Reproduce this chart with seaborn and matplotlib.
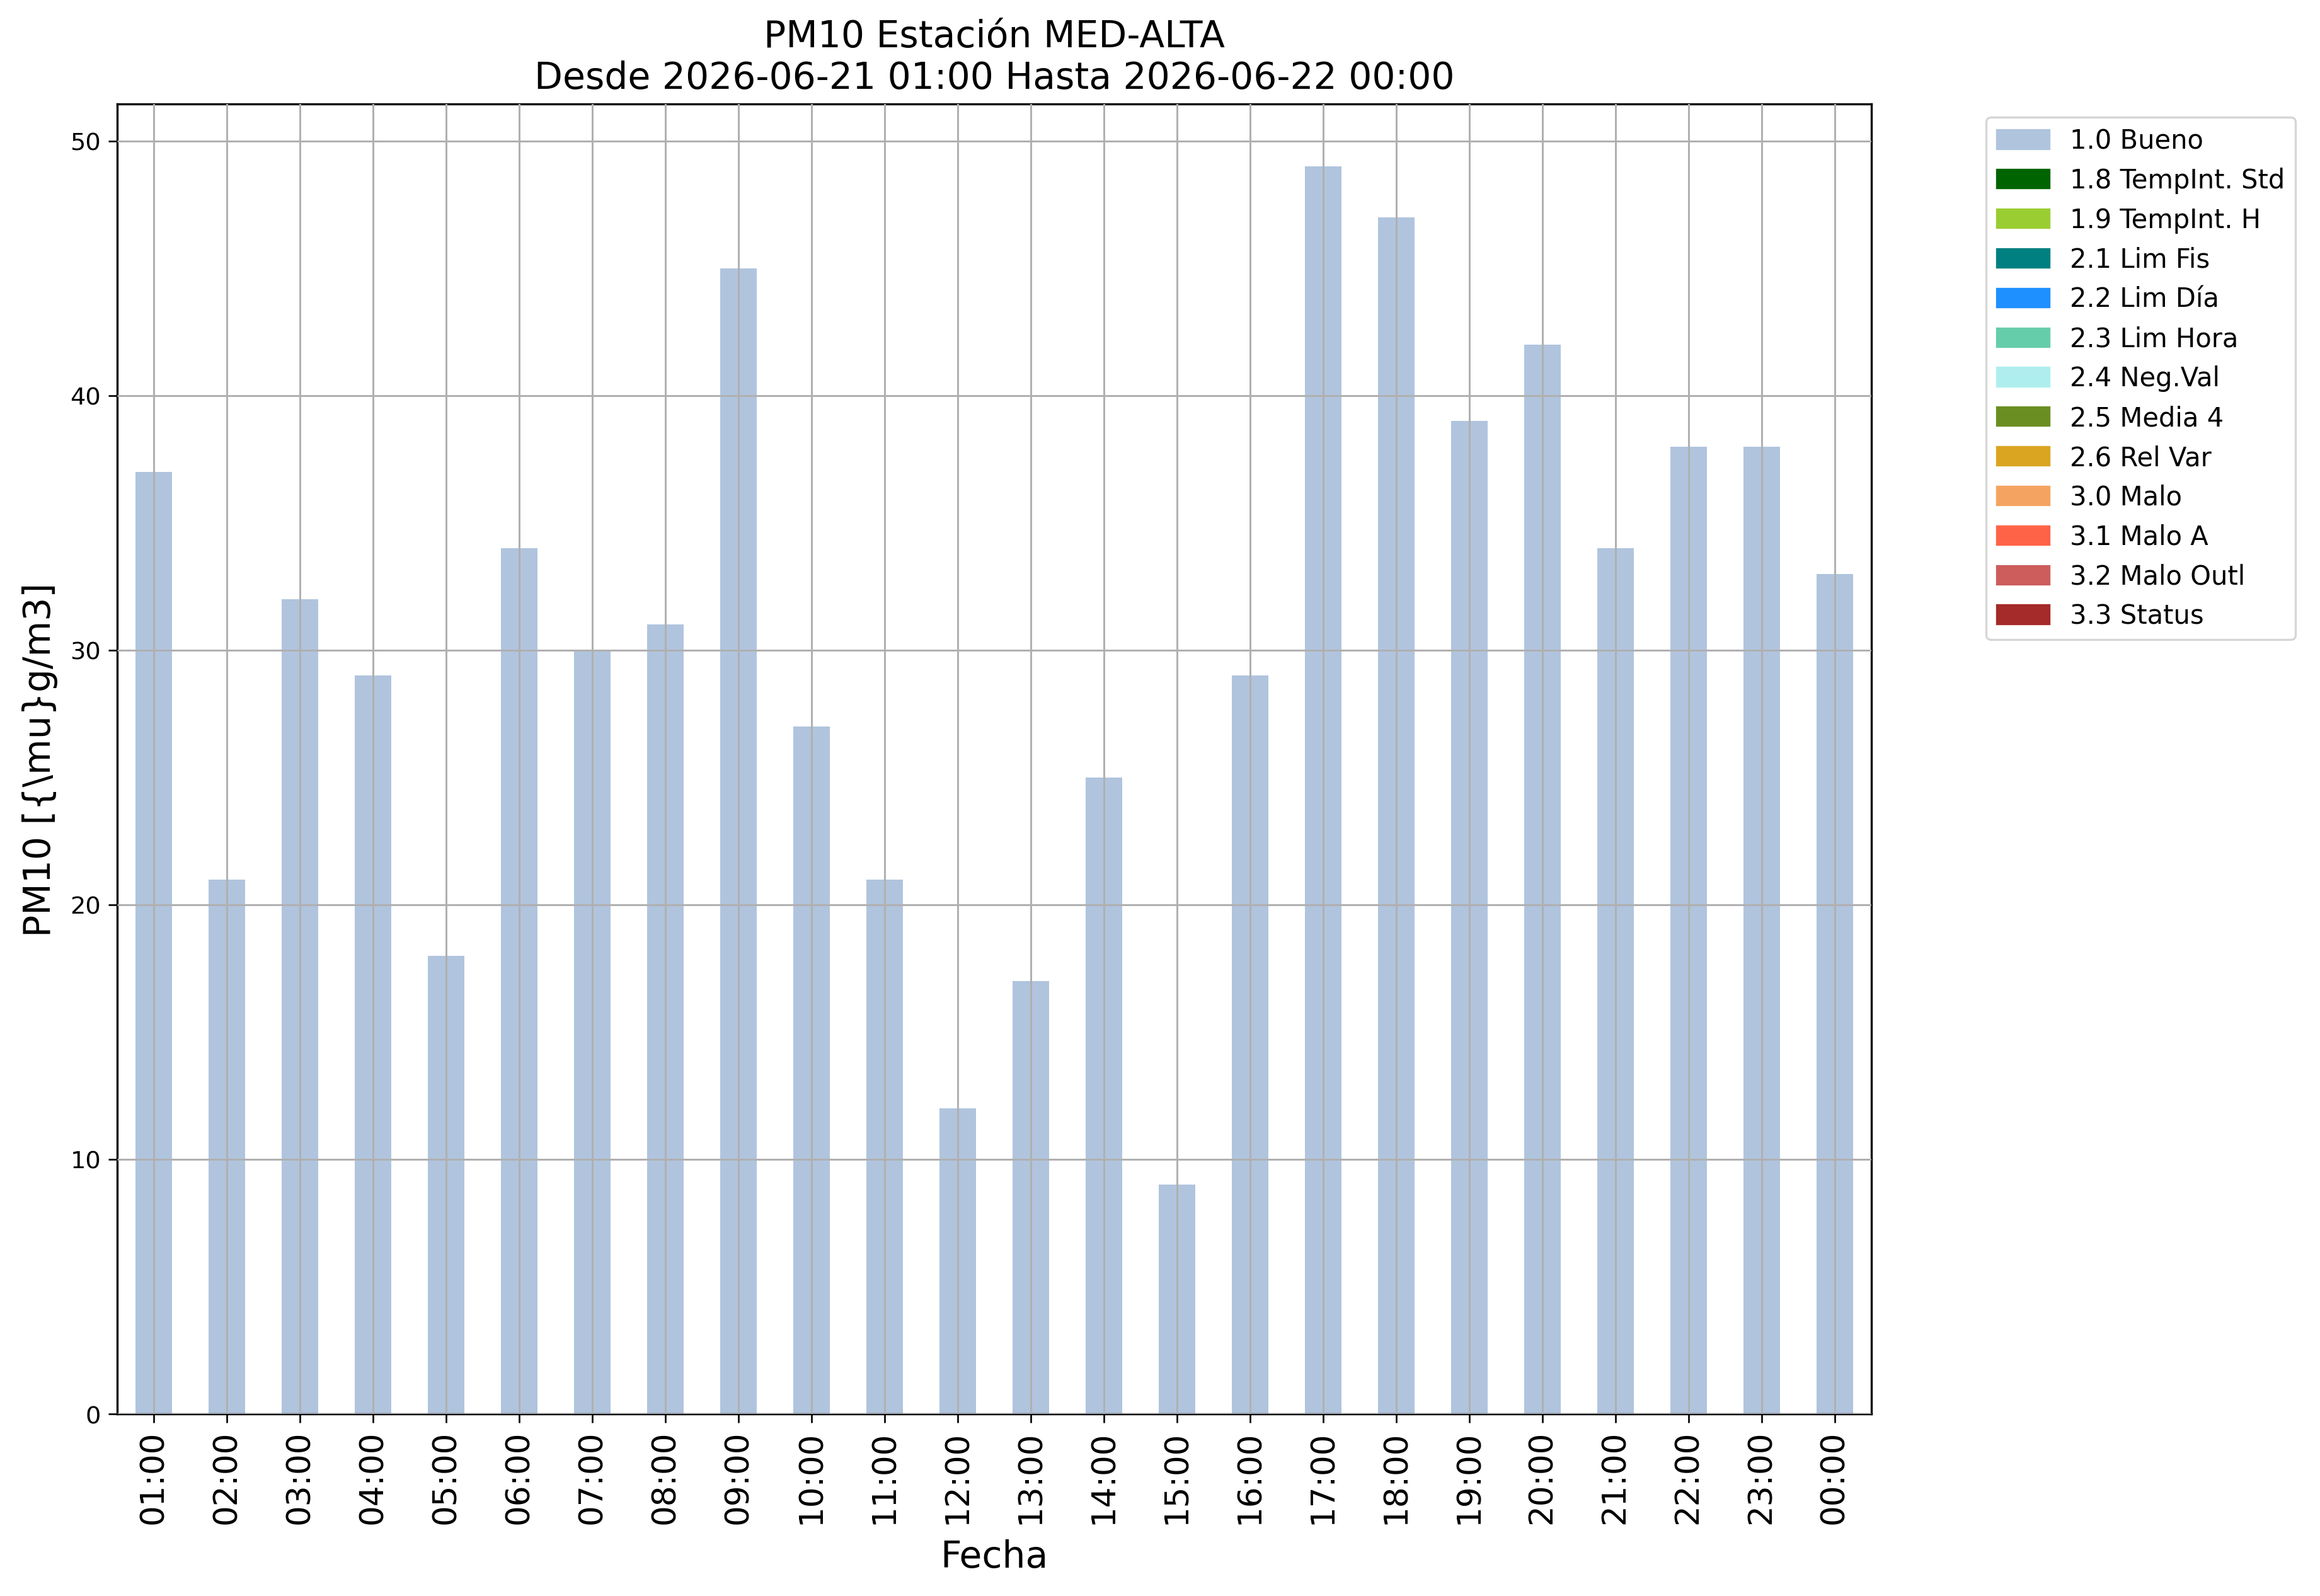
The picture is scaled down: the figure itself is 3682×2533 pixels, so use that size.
import matplotlib
matplotlib.use("Agg")
import matplotlib.pyplot as plt
from matplotlib.patches import Patch
import seaborn as sns
import pandas as pd

hours = ["01:00", "02:00", "03:00", "04:00", "05:00", "06:00", "07:00", "08:00",
         "09:00", "10:00", "11:00", "12:00", "13:00", "14:00", "15:00", "16:00",
         "17:00", "18:00", "19:00", "20:00", "21:00", "22:00", "23:00", "00:00"]
bueno = [37, 21, 32, 29, 18, 34, 30, 31, 45, 27, 21, 12, 17, 25, 9, 29,
         49, 47, 39, 42, 34, 38, 38, 33]
categories = ["1.0 Bueno", "1.8 TempInt. Std", "1.9 TempInt. H", "2.1 Lim Fis",
              "2.2 Lim Día", "2.3 Lim Hora", "2.4 Neg.Val", "2.5 Media 4",
              "2.6 Rel Var", "3.0 Malo", "3.1 Malo A", "3.2 Malo Outl", "3.3 Status"]
colors = ["lightsteelblue", "darkgreen", "yellowgreen", "teal", "dodgerblue",
          "mediumaquamarine", "paleturquoise", "olivedrab", "goldenrod",
          "sandybrown", "tomato", "indianred", "brown"]

df = pd.DataFrame({"Fecha": hours, "valor": bueno})

fig = plt.figure(figsize=(15.342, 10.558), dpi=240)
ax = fig.add_axes([0.0505, 0.114, 0.756, 0.8205])

sns.barplot(data=df, x="Fecha", y="valor", color=colors[0], saturation=1,
            width=0.5, ax=ax, zorder=1)

ax.set_xlim(-0.5, len(hours) - 0.5)
ax.set_ylim(0, max(bueno) * 1.05)
ax.grid(True, color="#b0b0b0", linewidth=0.9)
ax.set_axisbelow(False)
for s in ax.spines.values():
    s.set_color("black")
    s.set_linewidth(1.0)

ax.tick_params(axis="x", labelsize=15.5, rotation=90, length=4.2, width=0.8)
ax.tick_params(axis="y", labelsize=11.5, length=4.2, width=0.8)
ax.set_xlabel("Fecha", fontsize=17.5, labelpad=7)
ax.set_ylabel("PM10 [{\\mu}g/m3]", fontsize=17.5, labelpad=6)
ax.set_title("PM10 Estación MED-ALTA\nDesde 2026-06-21 01:00 Hasta 2026-06-22 00:00",
             fontsize=17.5, pad=7.5)

handles = [Patch(facecolor=c, edgecolor=c, label=l) for c, l in zip(colors, categories)]
ax.legend(handles=handles, loc="upper left", bbox_to_anchor=(1.058, 1.0),
          fontsize=12.5, frameon=True, fancybox=True, edgecolor="#cccccc",
          labelspacing=0.5)

fig.savefig("out.png", dpi=240)
